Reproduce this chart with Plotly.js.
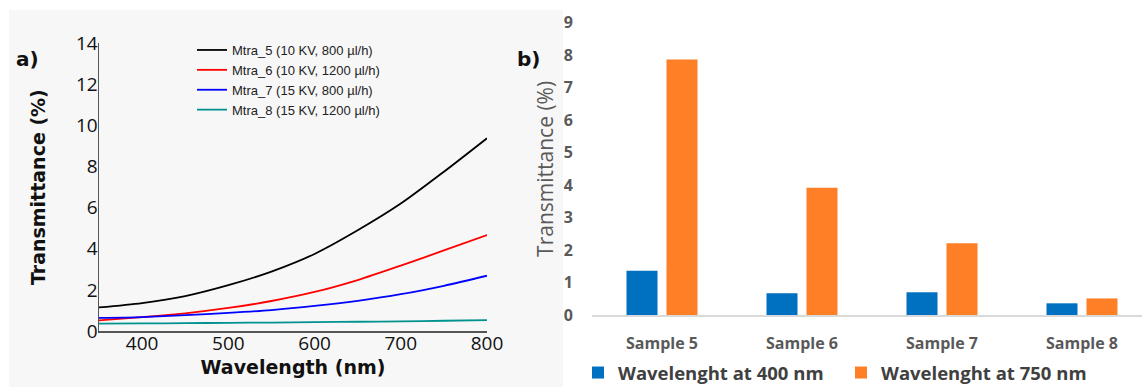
<!DOCTYPE html>
<html>
<head>
<meta charset="utf-8">
<script src="https://cdn.plot.ly/plotly-3.0.1.min.js"></script>
<style>html,body{margin:0;padding:0;background:#fff}#chart{width:1142px;height:387px}</style>
</head>
<body>
<div id="chart"></div>
<script>
// ---- Panel a) spectra ----
const wavelength = [350, 400, 450, 500, 550, 600, 650, 700, 750, 800];
const mtra5 = [1.15, 1.36, 1.70, 2.23, 2.89, 3.75, 4.90, 6.20, 7.75, 9.38];
const mtra6 = [0.52, 0.68, 0.86, 1.12, 1.46, 1.90, 2.48, 3.18, 3.92, 4.67];
const mtra7 = [0.64, 0.68, 0.77, 0.88, 1.02, 1.22, 1.47, 1.79, 2.20, 2.69];
const mtra8 = [0.36, 0.37, 0.38, 0.40, 0.41, 0.43, 0.45, 0.47, 0.50, 0.53];
const lineNames = ['Mtra_5 (10 KV, 800 µl/h)', 'Mtra_6 (10 KV, 1200 µl/h)', 'Mtra_7 (15 KV, 800 µl/h)', 'Mtra_8 (15 KV, 1200 µl/h)'];
const lineColors = ['#000000', '#ff0000', '#0000ff', '#00928f'];

// ---- Panel b) bars ----
const samples = ['Sample 5', 'Sample 6', 'Sample 7', 'Sample 8'];
const at400 = [1.36, 0.67, 0.70, 0.36];
const at750 = [7.87, 3.92, 2.21, 0.51];
const barNames = ['Wavelenght at 400 nm', 'Wavelenght at 750 nm'];
const barColors = ['#0070c0', '#ff7f27'];

const W = 1142, H = 387;
const px = v => v / W, py = v => 1 - v / H;

const series = [mtra5, mtra6, mtra7, mtra8];
const traces = series.map((s, i) => ({
  type: 'scatter', mode: 'lines', x: wavelength, y: s, name: lineNames[i],
  line: {color: lineColors[i], width: 1.8, shape: 'spline', smoothing: 0.8},
  xaxis: 'x', yaxis: 'y', legend: 'legend'
}));
[at400, at750].forEach((v, i) => traces.push({
  type: 'bar', x: samples, y: v, name: barNames[i],
  marker: {color: barColors[i]}, xaxis: 'x2', yaxis: 'y2', legend: 'legend2'
}));

const tickA = {family: 'Open Sans', size: 19, color: '#111'};
const tickB = {family: 'Open Sans', size: 16, color: '#595959', weight: 'bold'};
const layout = {
  width: W, height: H,
  margin: {l: 0, r: 0, t: 0, b: 0, autoexpand: false},
  paper_bgcolor: '#ffffff', plot_bgcolor: 'rgba(0,0,0,0)',
  showlegend: true,
  barmode: 'group', bargap: 0.4286, bargroupgap: 0.225,
  xaxis: {
    domain: [px(99), px(487)], range: [350, 800], tickvals: [400, 500, 600, 700, 800],
    showline: true, linecolor: '#555', linewidth: 1.5, showgrid: false, zeroline: false,
    ticks: '', tickfont: tickA, anchor: 'y', ticklabelstandoff: -5,
    title: {text: 'Wavelength (nm)', font: {family: 'DejaVu Sans', size: 19, color: '#111', weight: 'bold'}, standoff: 4}
  },
  yaxis: {
    domain: [1 - 331 / H, 1 - 43.3 / H], range: [0, 14], dtick: 2,
    showline: true, linecolor: '#555', linewidth: 1.5, showgrid: false, zeroline: false,
    ticks: '', tickfont: tickA, anchor: 'x', ticklabelstandoff: -4,
    title: {text: 'Transmittance (%)', font: {family: 'DejaVu Sans', size: 19, color: '#111', weight: 'bold'}, standoff: 25}
  },
  xaxis2: {
    domain: [px(592), 1], range: [-0.5, 3.4286], type: 'category',
    showline: true, linecolor: '#d9d9d9', linewidth: 1.5, showgrid: false, zeroline: false,
    ticks: '', anchor: 'y2', ticklabelstandoff: 13, tickfont: tickB
  },
  yaxis2: {
    domain: [1 - 315 / H, 1 - 22.7 / H], range: [0, 9], dtick: 1,
    showline: false, showgrid: false, zeroline: false, ticks: '', anchor: 'x2',
    ticklabelstandoff: 18, tickfont: tickB,
    title: {text: 'Transmittance (%)', font: {family: 'Open Sans', size: 21, color: '#595959'}, standoff: 4}
  },
  legend: {
    x: px(192), xanchor: 'left', y: py(35), yanchor: 'top', tracegroupgap: 0,
    bgcolor: 'rgba(0,0,0,0)', borderwidth: 0,
    font: {family: 'Liberation Sans', size: 13, color: '#222'}
  },
  legend2: {
    orientation: 'h', x: px(578), xanchor: 'left', y: py(373), yanchor: 'middle',
    bgcolor: 'rgba(0,0,0,0)', borderwidth: 0, entrywidth: 218, entrywidthmode: 'pixels',
    font: {family: 'Open Sans', size: 18.5, color: '#404040', weight: 'bold'}
  },
  shapes: [
    {type: 'rect', xref: 'paper', yref: 'paper', x0: px(9), x1: px(563), y0: 0, y1: py(10),
     fillcolor: '#f7f7f7', line: {width: 0}, layer: 'below'},
    {type: 'rect', xref: 'paper', yref: 'paper', x0: px(563), x1: 1, y0: 0, y1: py(10),
     fillcolor: '#ffffff', line: {width: 0}, layer: 'below'}
  ],
  annotations: [
    {text: 'a)', xref: 'paper', yref: 'paper', x: px(14), xanchor: 'left', y: py(45), showarrow: false,
     font: {family: 'DejaVu Sans', size: 20, color: '#111', weight: 'bold'}},
    {text: 'b)', xref: 'paper', yref: 'paper', x: px(515), xanchor: 'left', y: py(45), showarrow: false,
     font: {family: 'DejaVu Sans', size: 20, color: '#111', weight: 'bold'}}
  ]
};

Plotly.newPlot('chart', traces, layout, {displayModeBar: false, staticPlot: true});
</script>
</body>
</html>
